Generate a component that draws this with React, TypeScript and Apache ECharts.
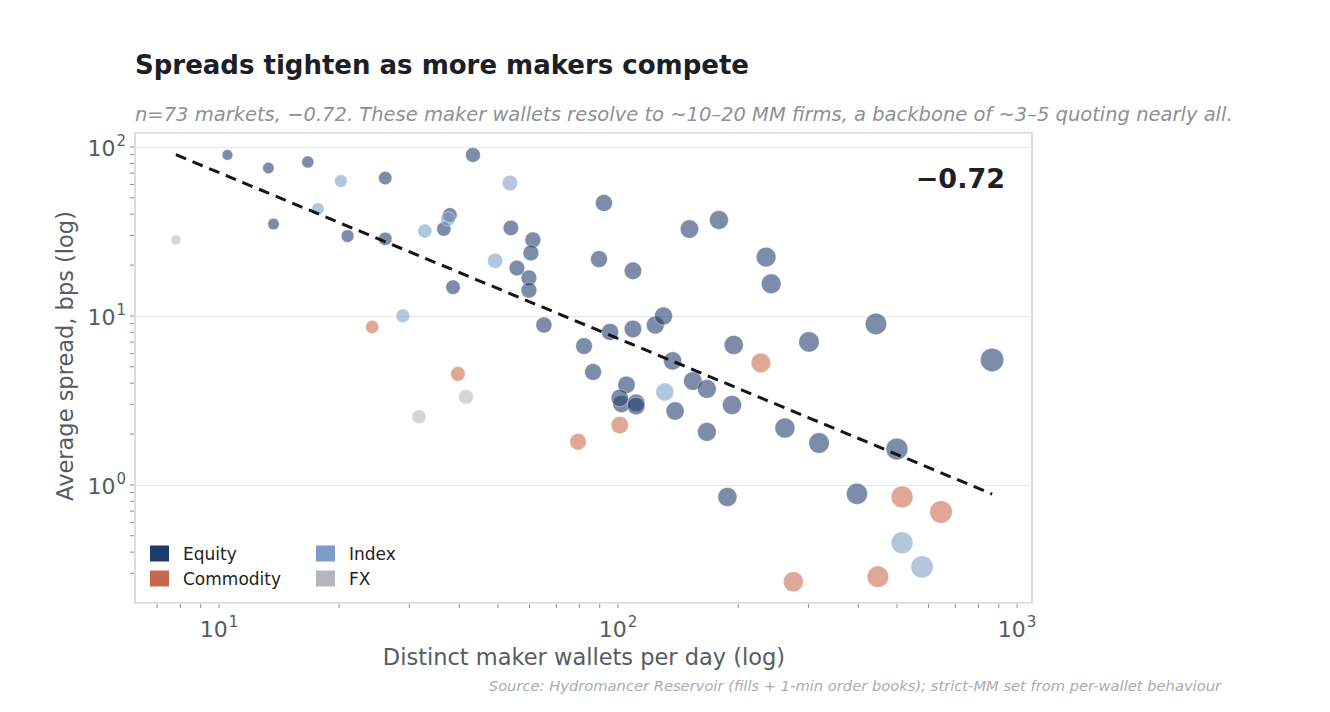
import React, { useEffect, useRef } from "react";
import * as echarts from "echarts";

// Market categories and their swatch colours
const CATEGORIES = ["Equity", "Commodity", "Index", "FX"];
const CATEGORY_COLORS = ["#1f3b6b", "#c8684c", "#7b9dc7", "#b3b6bb"];

// Distinct maker wallets per day and average spread (bps), one entry per market
const equityWallets = [
  10.5, 13.3, 16.7, 26.1, 43.3, 13.7, 21.0, 26.1, 36.6, 37.9, 38.6, 53.9, 61.2,
  60.5, 55.8, 59.8, 59.8, 65.2, 92.2, 89.6, 109, 151, 179, 235, 242, 95.5, 109,
  124, 130, 82.2, 86.6, 105, 102, 111, 137, 154, 167, 139, 193, 195, 167, 262,
  301, 443, 866, 319, 500, 397, 188, 101, 111,
];
const equitySpreads = [
  89.7, 75.1, 81.5, 65.5, 89.7, 35.0, 29.7, 28.6, 32.7, 39.6, 14.8, 33.2, 28.2,
  23.6, 19.2, 16.8, 14.2, 8.84, 46.6, 21.7, 18.5, 32.7, 37.0, 22.3, 15.5, 8.04,
  8.38, 8.84, 10.0, 6.64, 4.66, 3.91, 3.01, 3.06, 5.42, 4.12, 3.7, 2.74, 2.97,
  6.73, 2.06, 2.17, 7.02, 8.97, 5.49, 1.77, 1.63, 0.885, 0.849, 3.27, 2.93,
];
const commodityWallets = [24.2, 39.7, 79.4, 101, 228, 275, 448, 515, 645];
const commoditySpreads = [8.61, 4.54, 1.8, 2.26, 5.27, 0.267, 0.286, 0.849, 0.692];
const indexWallets = [17.7, 20.2, 32.8, 37.5, 49.2, 53.6, 28.9, 131, 515, 578];
const indexSpreads = [43.0, 62.9, 31.8, 37.5, 21.2, 61.2, 10.0, 3.55, 0.454, 0.327];
const fxWallets = [7.8, 31.7, 41.6];
const fxSpreads = [28.2, 2.53, 3.32];

// Axis ranges, labelled decades and tick positions
const X_RANGE = [6.16, 1090];
const Y_RANGE = [0.2, 121];
const X_DECADES = [10, 100, 1000];
const Y_DECADES = [1, 10, 100];
const X_TICKS = [7, 8, 9, 10, 20, 30, 40, 50, 60, 70, 80, 90, 100, 200, 300, 400, 500, 600, 700, 800, 900, 1000];
const Y_TICKS = [0.3, 0.4, 0.5, 0.6, 0.7, 0.8, 0.9, 1, 2, 3, 4, 5, 6, 7, 8, 9, 10, 20, 30, 40, 50, 60, 70, 80, 90, 100];

const CORRELATION_LABEL = "\u22120.72";

const FONT = '"DejaVu Sans", "Liberation Sans", sans-serif';
const TICK_COLOR = "#555b62";
const TICK_LINE = "#8a8f95";

function pairs(xs: number[], ys: number[]) {
  return xs.map((x, i) => [x, ys[i]]);
}

// Least-squares fit in log-log space across every market
function logFit(points: number[][]) {
  const lx = points.map((p) => Math.log10(p[0]));
  const ly = points.map((p) => Math.log10(p[1]));
  const n = lx.length;
  const mx = lx.reduce((a, b) => a + b, 0) / n;
  const my = ly.reduce((a, b) => a + b, 0) / n;
  let sxy = 0;
  let sxx = 0;
  for (let i = 0; i < n; i++) {
    sxy += (lx[i] - mx) * (ly[i] - my);
    sxx += (lx[i] - mx) * (lx[i] - mx);
  }
  const slope = sxy / sxx;
  const intercept = my - slope * mx;
  const xs = points.map((p) => p[0]);
  const x0 = Math.min(...xs);
  const x1 = Math.max(...xs);
  return [
    [x0, Math.pow(10, intercept + slope * Math.log10(x0))],
    [x1, Math.pow(10, intercept + slope * Math.log10(x1))],
  ];
}

const powerLabel = (v: number) => `{b|10}{s|${Math.round(Math.log10(v))}}`;

export default function App() {
  const ref = useRef<HTMLDivElement>(null);

  useEffect(() => {
    if (!ref.current) return;
    const chart = echarts.init(ref.current, undefined, { renderer: "svg" });

    const groups = [
      pairs(equityWallets, equitySpreads),
      pairs(commodityWallets, commoditySpreads),
      pairs(indexWallets, indexSpreads),
      pairs(fxWallets, fxSpreads),
    ];
    const fitLine = logFit(groups.flat());

    const rich = {
      b: { fontSize: 22, fontFamily: FONT, color: TICK_COLOR, lineHeight: 26, verticalAlign: "bottom" },
      s: { fontSize: 15, fontFamily: FONT, color: TICK_COLOR, lineHeight: 15, verticalAlign: "top", padding: [0, 0, 0, 1] },
    };

    const scatterSeries = groups.map((data, i) => ({
      name: CATEGORIES[i],
      type: "scatter",
      xAxisIndex: 0,
      yAxisIndex: 0,
      data,
      symbol: "circle",
      symbolSize: (v: number[]) => 4 + 6.6 * Math.log10(v[0]),
      itemStyle: {
        color: CATEGORY_COLORS[i],
        opacity: 0.58,
        borderColor: "rgba(255,255,255,0.85)",
        borderWidth: 0.8,
      },
      emphasis: { disabled: true },
      z: 2,
    }));

    // Outward tick marks along the bottom and left edges of the plot
    const xTickSeries = {
      type: "custom",
      silent: true,
      clip: false,
      z: 1,
      data: X_TICKS.map((v) => [v, Y_RANGE[0]]),
      renderItem: (_p: any, api: any) => {
        const pt = api.coord([api.value(0), api.value(1)]);
        return {
          type: "line",
          shape: { x1: pt[0], y1: pt[1] + 1, x2: pt[0], y2: pt[1] + 5 },
          style: { stroke: TICK_LINE, lineWidth: 1 },
        };
      },
    };
    const yTickSeries = {
      type: "custom",
      silent: true,
      clip: false,
      z: 1,
      data: Y_TICKS.map((v) => [X_RANGE[0], v]),
      renderItem: (_p: any, api: any) => {
        const pt = api.coord([api.value(0), api.value(1)]);
        return {
          type: "line",
          shape: { x1: pt[0] - 1, y1: pt[1], x2: pt[0] - 5, y2: pt[1] },
          style: { stroke: TICK_LINE, lineWidth: 1 },
        };
      },
    };

    const legendBase = {
      orient: "vertical",
      icon: "rect",
      itemWidth: 19,
      itemHeight: 16,
      itemGap: 8,
      selectedMode: false,
      itemStyle: { opacity: 1, borderWidth: 0 },
      textStyle: { fontSize: 17, color: "#222", fontFamily: FONT, padding: [0, 0, 0, 9] },
    };

    chart.setOption({
      animation: false,
      backgroundColor: "#ffffff",
      grid: {
        left: 135,
        top: 133,
        width: 897,
        height: 470,
        show: true,
        borderColor: "#cfd4d8",
        borderWidth: 1.5,
        backgroundColor: "transparent",
      },
      legend: [
        { ...legendBase, data: ["Equity", "Commodity"], left: 145, top: 540 },
        { ...legendBase, data: ["Index", "FX"], left: 311, top: 540 },
      ],
      xAxis: {
        type: "log",
        logBase: 10,
        min: X_RANGE[0],
        max: X_RANGE[1],
        position: "bottom",
        axisLine: { show: false },
        axisTick: { show: false },
        splitLine: { show: false },
        axisLabel: { formatter: powerLabel, rich, margin: 11, customValues: X_DECADES },
      },
      yAxis: {
        type: "log",
        logBase: 10,
        min: Y_RANGE[0],
        max: Y_RANGE[1],
        position: "left",
        axisLine: { show: false },
        axisTick: { show: false },
        splitLine: { show: true, lineStyle: { color: "#e6e8ea", width: 1 } },
        axisLabel: { formatter: powerLabel, rich, margin: 9, customValues: Y_DECADES },
      },
      series: [
        ...scatterSeries,
        xTickSeries,
        yTickSeries,
        {
          name: "fit",
          type: "line",
          xAxisIndex: 0,
          yAxisIndex: 0,
          data: fitLine,
          symbol: "none",
          lineStyle: { color: "#151515", width: 3, type: [11, 7] },
          emphasis: { disabled: true },
          z: 3,
        },
      ],
      graphic: [
        {
          type: "text",
          style: {
            text: "Spreads tighten as more makers compete",
            x: 135,
            y: 65,
            verticalAlign: "middle",
            font: `bold 26px ${FONT}`,
            fill: "#1c2026",
          },
        },
        {
          type: "text",
          style: {
            text: "n=73 markets, \u22120.72. These maker wallets resolve to ~10\u201320 MM firms, a backbone of ~3\u20135 quoting nearly all.",
            x: 135,
            y: 114,
            verticalAlign: "middle",
            font: `italic 19.5px ${FONT}`,
            fill: "#8c9198",
          },
        },
        {
          type: "text",
          z: 10,
          style: {
            text: CORRELATION_LABEL,
            x: 1005,
            y: 178,
            align: "right",
            verticalAlign: "middle",
            font: `bold 27px ${FONT}`,
            fill: "#1c2026",
          },
        },
        {
          type: "text",
          style: {
            text: "Distinct maker wallets per day (log)",
            x: 584,
            y: 657,
            align: "center",
            verticalAlign: "middle",
            font: `22.5px ${FONT}`,
            fill: "#555c63",
          },
        },
        {
          type: "text",
          x: 65,
          y: 356,
          rotation: Math.PI / 2,
          style: {
            text: "Average spread, bps (log)",
            x: 0,
            y: 0,
            align: "center",
            verticalAlign: "middle",
            font: `22.5px ${FONT}`,
            fill: "#555c63",
          },
        },
        {
          type: "text",
          style: {
            text: "Source: Hydromancer Reservoir (fills + 1-min order books); strict-MM set from per-wallet behaviour",
            x: 1221,
            y: 685,
            align: "right",
            verticalAlign: "middle",
            font: `italic 14.7px ${FONT}`,
            fill: "#a8acb1",
          },
        },
      ],
    });

    return () => chart.dispose();
  }, []);

  return (
    <div
      ref={ref}
      style={{ position: "absolute", left: 0, top: 0, width: 1330, height: 712, background: "#fff" }}
    />
  );
}
